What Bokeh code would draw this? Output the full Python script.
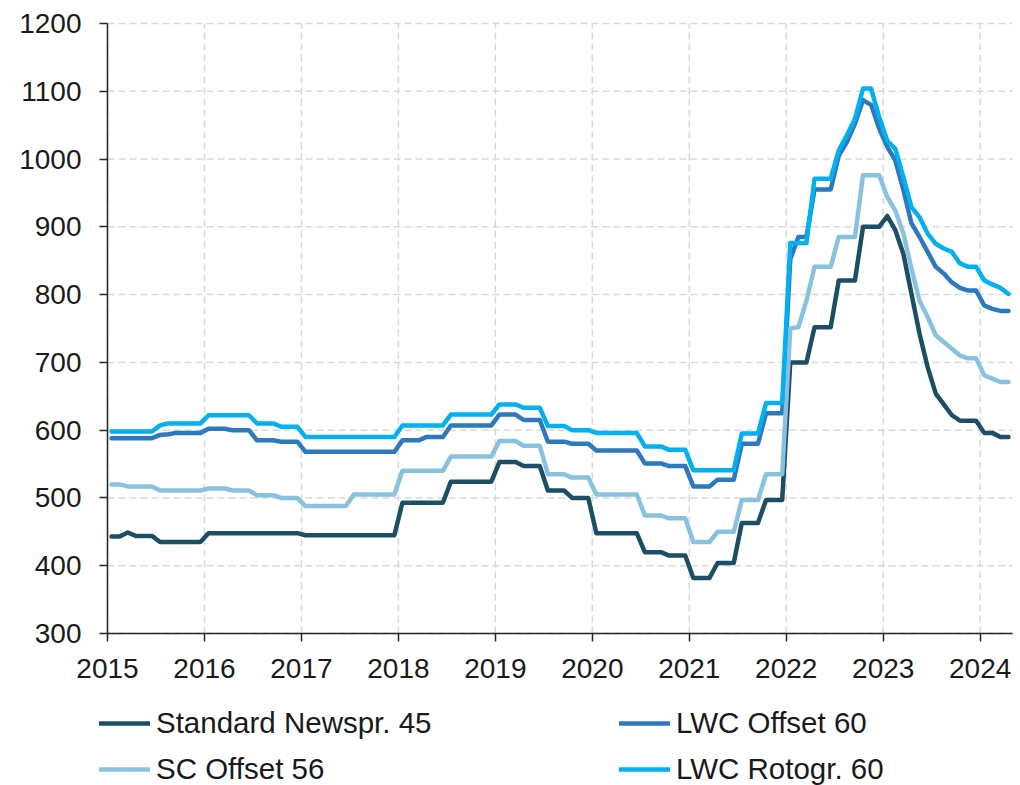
from bokeh.plotting import figure
from bokeh.models import Range1d, FixedTicker, Legend, LegendItem, ColumnDataSource
from bokeh.embed import file_html
from bokeh.resources import INLINE

# Monthly prices, Jan 2015 - Apr 2024
standard_newspr_45 = [
    443, 443, 449, 444, 444, 444, 435, 435, 435, 435, 435, 435,
    448, 448, 448, 448, 448, 448, 448, 448, 448, 448, 448, 448,
    445, 445, 445, 445, 445, 445, 445, 445, 445, 445, 445, 445,
    493, 493, 493, 493, 493, 493, 524, 524, 524, 524, 524, 524,
    553, 553, 553, 547, 547, 547, 511, 511, 511, 500, 500, 500,
    448, 448, 448, 448, 448, 448, 420, 420, 420, 415, 415, 415,
    382, 382, 382, 404, 404, 404, 463, 463, 463, 497, 497, 497,
    700, 700, 700, 752, 752, 752, 821, 821, 821, 900, 900, 900,
    916, 895, 860, 801, 742, 693, 654, 638, 622, 614, 614, 614,
    596, 596, 590, 590,
]
lwc_offset_60 = [
    588, 588, 588, 588, 588, 588, 593, 594, 596, 596, 596, 596,
    602, 602, 602, 600, 600, 600, 585, 585, 585, 583, 583, 583,
    568, 568, 568, 568, 568, 568, 568, 568, 568, 568, 568, 568,
    585, 585, 585, 590, 590, 590, 607, 607, 607, 607, 607, 607,
    623, 623, 623, 615, 615, 615, 583, 583, 583, 580, 580, 580,
    570, 570, 570, 570, 570, 570, 551, 551, 551, 547, 547, 547,
    517, 517, 517, 527, 527, 527, 580, 580, 580, 625, 625, 625,
    852, 885, 885, 955, 955, 955, 1005, 1025, 1052, 1087, 1080, 1045,
    1018, 998, 954, 905, 885, 863, 841, 831, 818, 810, 806, 806,
    784, 779, 776, 776,
]
sc_offset_56 = [
    520, 520, 517, 517, 517, 517, 511, 511, 511, 511, 511, 511,
    514, 514, 514, 511, 511, 511, 504, 504, 504, 500, 500, 500,
    488, 488, 488, 488, 488, 488, 505, 505, 505, 505, 505, 505,
    540, 540, 540, 540, 540, 540, 561, 561, 561, 561, 561, 561,
    584, 584, 584, 577, 577, 577, 535, 535, 535, 530, 530, 530,
    505, 505, 505, 505, 505, 505, 474, 474, 474, 470, 470, 470,
    435, 435, 435, 450, 450, 450, 497, 497, 497, 535, 535, 535,
    750, 752, 791, 841, 841, 841, 885, 885, 885, 976, 976, 976,
    944, 924, 890, 838, 791, 767, 740, 730, 720, 710, 706, 706,
    681, 676, 671, 671,
]
lwc_rotogr_60 = [
    598, 598, 598, 598, 598, 598, 607, 610, 610, 610, 610, 610,
    622, 622, 622, 622, 622, 622, 610, 610, 610, 605, 605, 605,
    590, 590, 590, 590, 590, 590, 590, 590, 590, 590, 590, 590,
    607, 607, 607, 607, 607, 607, 623, 623, 623, 623, 623, 623,
    638, 638, 638, 633, 633, 633, 606, 606, 606, 600, 600, 600,
    596, 596, 596, 596, 596, 596, 576, 576, 576, 571, 571, 571,
    541, 541, 541, 541, 541, 541, 595, 595, 595, 640, 640, 640,
    876, 876, 876, 971, 971, 971, 1013, 1035, 1059, 1104, 1104, 1062,
    1027, 1015, 973, 929, 914, 890, 875, 868, 863, 846, 841, 841,
    821, 815, 810, 801,
]

series_names = ["Standard Newspr. 45", "LWC Offset 60", "SC Offset 56", "LWC Rotogr. 60"]
series_colors = ["#1c4f66", "#2e78bd", "#88c2df", "#00b0f0"]

year_ticks = [2015, 2016, 2017, 2018, 2019, 2020, 2021, 2022, 2023, 2024]
year_labels = ["2015", "2016", "2017", "2018", "2019", "2020", "2021", "2022", "2023", "2024"]
y_ticks = [300, 400, 500, 600, 700, 800, 900, 1000, 1100, 1200]
y_labels = ["300", "400", "500", "600", "700", "800", "900", "1000", "1100", "1200"]

X_START, X_END = 2015, 2024 + 4 / 12
Y_START, Y_END = 300, 1200

# mid-month positions in decimal years
x = [X_START + (i + 0.5) / 12 for i in range(len(standard_newspr_45))]

src = ColumnDataSource(dict(
    x=x, s1=standard_newspr_45, s2=lwc_offset_60, s3=sc_offset_56, s4=lwc_rotogr_60))

FONT = "Liberation Sans"
TXT = "#1a1a1a"
LW = 4.5

# page geometry: plotting area spans x 107..1012 px and y 23..633 px; the frame
# covers the whole canvas so the axis labels and the legend are not clipped
W, H = 1020, 785
LEFT, TOP, RIGHT, BOTTOM = 107, 23, 1012, 633
px_per_x = (RIGHT - LEFT) / (X_END - X_START)
px_per_y = (BOTTOM - TOP) / (Y_END - Y_START)
x_lo = X_START - LEFT / px_per_x
x_hi = X_END + (W - RIGHT) / px_per_x
y_lo = Y_START - (H - BOTTOM) / px_per_y
y_hi = Y_END + TOP / px_per_y

p = figure(width=W, height=H,
           x_range=Range1d(x_lo, x_hi), y_range=Range1d(y_lo, y_hi),
           output_backend="svg", toolbar_location=None,
           min_border_left=0, min_border_top=0, min_border_right=0, min_border_bottom=0)
p.outline_line_color = None
p.background_fill_color = "white"
p.border_fill_color = "white"
p.xgrid.visible = False
p.ygrid.visible = False

# dashed grid lines, drawn from the tick arrays
GRID = dict(line_color="#d9d9d9", line_width=1.5, line_dash="7 4")
p.segment(x0=year_ticks, y0=[Y_START] * len(year_ticks),
          x1=year_ticks, y1=[Y_END] * len(year_ticks), **GRID)
p.segment(x0=[X_START] * len(y_ticks), y0=y_ticks,
          x1=[X_END] * len(y_ticks), y1=y_ticks, **GRID)

renderers = {}
for col, name, color in zip(["s1", "s2", "s3", "s4"], series_names, series_colors):
    renderers[name] = p.line("x", col, source=src, line_color=color, line_width=LW,
                             line_join="round", line_cap="round")

for ax in (p.xaxis[0], p.yaxis[0]):
    ax.axis_line_color = "#262626"
    ax.axis_line_width = 1.5
    ax.major_tick_line_color = "#262626"
    ax.major_tick_line_width = 1.5
    ax.major_tick_out = 8
    ax.major_tick_in = 0
    ax.minor_tick_line_color = None
    ax.major_label_text_font = FONT
    ax.major_label_text_font_size = "28px"
    ax.major_label_text_color = TXT

p.xaxis.fixed_location = Y_START
p.xaxis.bounds = (X_START, X_END)
p.xaxis.ticker = FixedTicker(ticks=year_ticks)
p.xaxis.major_label_overrides = {t: l for t, l in zip(year_ticks, year_labels)}
p.xaxis.major_label_standoff = 17

p.yaxis.fixed_location = X_START
p.yaxis.bounds = (Y_START, Y_END)
p.yaxis.ticker = FixedTicker(ticks=y_ticks)
p.yaxis.major_label_overrides = {t: l for t, l in zip(y_ticks, y_labels)}
p.yaxis.major_label_standoff = 18

order = [series_names[0], series_names[2], series_names[1], series_names[3]]
items = [LegendItem(label=n, renderers=[renderers[n]]) for n in order]
legend = Legend(items=items, location=(99, -1), orientation="vertical", ncols=2,
                glyph_width=51, glyph_height=26, label_standoff=6,
                label_width=451, label_height=26, spacing=12,
                padding=0, margin=0, border_line_color=None,
                background_fill_alpha=0,
                label_text_font=FONT, label_text_font_size="29.5px",
                label_text_color=TXT)
p.add_layout(legend)

open("out.html", "w").write(file_html(p, INLINE))
